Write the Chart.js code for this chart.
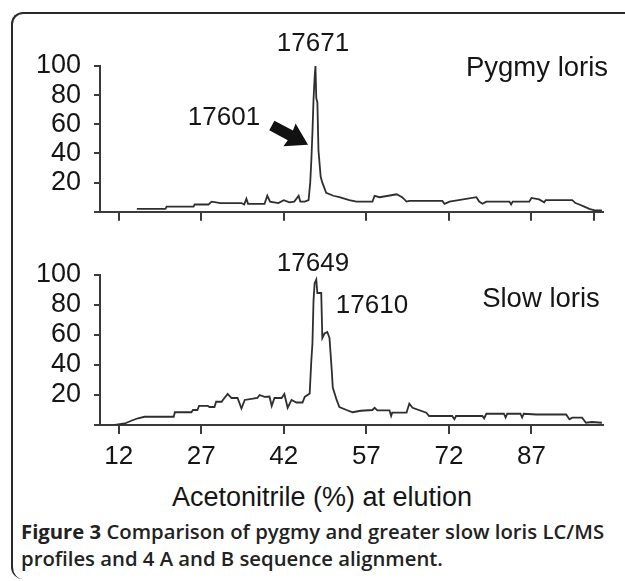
<!DOCTYPE html>
<html lang="en">
<head>
<meta charset="UTF-8">
<title>LC/MS profiles</title>
<script src="https://cdn.jsdelivr.net/npm/chart.js@4.4.0/dist/chart.umd.min.js"></script>
<style>
    body { margin: 0; background: #fff; }
    #page {
        position: relative; width: 625px; height: 581px; overflow: hidden;
        font-family: "Liberation Sans", Arial, sans-serif; color: #151515;
    }
    #frame {
        position: absolute; left: 11px; top: 12px; width: 640px; height: 565px;
        border-left: 2px solid #2a2a2a; border-top: 2px solid #2a2a2a;
        border-radius: 12px 0 0 12px;
    }
    canvas { position: absolute; left: 0; }
    #topChart { top: 0; }
    #bottomChart { top: 240px; }
    .lbl {
        position: absolute; white-space: nowrap; line-height: 1;
        font-size: 26px; transform: translate(-50%, -50%);
    }
    #caption {
        position: absolute; left: 21px; top: 518px;
        font-family: "Open Sans", "Noto Sans", sans-serif; font-size: 20.3px;
        font-weight: 600; line-height: 26.5px; color: #222;
    }
    #caption b { font-weight: 700; }
</style>
</head>
<body>
<div id="page">
    <div id="frame"></div>
    <canvas id="topChart" width="625" height="241"></canvas>
    <canvas id="bottomChart" width="625" height="235"></canvas>

    <div class="lbl" style="left:313px; top:42px">17671</div>
    <div class="lbl" style="left:224px; top:116px">17601</div>
    <div class="lbl" style="left:537px; top:67px; font-size:27.5px">Pygmy loris</div>
    <div class="lbl" style="left:313px; top:262px">17649</div>
    <div class="lbl" style="left:372px; top:304px">17610</div>
    <div class="lbl" style="left:541px; top:298px; font-size:27.5px">Slow loris</div>
    <div class="lbl" style="left:322px; top:497px; font-size:27px">Acetonitrile (%) at elution</div>

    <div id="caption"><b>Figure 3</b> Comparison of pygmy and greater slow loris LC/MS<br>profiles and 4 A and B sequence alignment.</div>
</div>

<script>
    // acetonitrile (%) axis
    var xMin = 8.6;
    var xMax = 100;
    var xTickValues = [12, 27, 42, 57, 72, 87];
    var yTickStep = 20;

    // Pygmy loris trace (relative intensity)
    var pygmyX = [15.3, 20.5, 20.7, 25.6, 25.8, 28.3, 28.9, 30.5, 34.3, 34.8, 35.2, 35.5, 38.5, 39.0, 39.5,
        41.0, 42.0, 43.0, 43.9, 44.7, 45.0, 45.8, 46.5, 46.8, 47.0, 47.2, 47.4, 47.6, 47.75, 47.9, 48.1,
        48.3, 48.7, 49.0, 49.7, 51.0, 52.1, 53.9, 55.2, 58.1, 58.5, 59.4, 61.0, 62.5, 63.5, 64.3, 64.8,
        70.8, 71.2, 72.1, 77.0, 77.5, 78.1, 78.8, 83.0, 83.3, 83.6, 86.6, 87.0, 88.4, 89.3, 89.6, 94.4,
        95.0, 95.7, 96.6, 97.5, 98.5, 99.8];
    var pygmyY = [2, 2, 3.5, 3.5, 5, 5, 7, 6, 6, 5, 9, 5.5, 5.5, 11, 7,
        6, 8, 6.5, 7, 11, 7, 7, 8, 20, 35, 54, 77, 92, 100, 78, 75,
        42, 24, 20, 13, 11, 10, 8, 7, 7, 11, 10, 11, 12, 10, 7, 7.5,
        7.5, 5.5, 7, 10, 7, 5.5, 7, 7, 5, 7, 7, 9.5, 8.5, 6.5, 8, 8,
        6, 5, 3.5, 2, 1, 1];

    // Slow loris trace
    var slowX = [11.3, 13.1, 14.4, 15.5, 16.7, 22.0, 22.2, 25.2, 25.5, 26.3, 26.6, 28.2, 28.5, 29.4, 29.7,
        30.7, 31.0, 31.8, 32.5, 33.6, 34.3, 34.9, 37.2, 37.6, 38.5, 39.4, 39.8, 40.3, 41.6, 42.1, 42.7,
        43.4, 44.3, 45.4, 45.8, 46.7, 47.0, 47.2, 47.4, 47.6, 47.9, 48.1, 48.8, 49.0, 49.4, 49.9, 50.3,
        50.7, 50.9, 51.6, 52.1, 53.4, 54.5, 56.0, 58.1, 58.5, 59.0, 61.2, 61.5, 61.7, 64.3, 64.8, 65.4,
        67.9, 68.4, 72.6, 73.0, 73.3, 78.1, 78.4, 78.8, 82.0, 82.3, 82.6, 85.0, 85.3, 85.6, 87.9, 93.3,
        93.9, 94.4, 96.2, 96.9, 98.0, 99.8];
    var slowY = [0, 1, 3, 4.5, 5.5, 5.5, 8.5, 8.5, 10, 10, 12.7, 12.7, 12, 12, 15.5,
        15.5, 17, 20.7, 18, 18, 11, 16.7, 18, 20, 18.7, 19, 12.7, 18, 18, 20.7, 11.5,
        16.7, 15, 15, 18.7, 21, 43, 54, 83, 94.5, 97, 88, 88, 58, 61, 62, 58,
        37, 25, 16.7, 12, 10, 8.5, 9.5, 10, 11.5, 9.8, 9.8, 6, 8.2, 8.2, 14.2, 11.5,
        8.2, 6, 6, 3.8, 6, 6, 4.4, 7.5, 7.5, 5, 7.5, 7.5, 5, 7.5, 7, 7,
        3.8, 4.9, 4.9, 1.5, 2, 1.5];

    var axisColor = '#3a3a3a';
    var lineColor = '#2e2e2e';
    var tickFont = { family: 'Liberation Sans', size: 27 };

    function toPoints(xs, ys) {
        var pts = [];
        for (var i = 0; i < xs.length; i++) {
            pts.push({ x: xs[i], y: ys[i] });
        }
        return pts;
    }

    // black arrow pointing at the 17601 shoulder
    var arrowPlugin = {
        id: 'arrow',
        afterDraw: function (chart, args, opts) {
            if (!opts.at) return;
            var ctx = chart.ctx;
            var tx = chart.scales.x.getPixelForValue(opts.at[0]);
            var ty = chart.scales.y.getPixelForValue(opts.at[1]);
            ctx.save();
            ctx.translate(tx, ty);
            ctx.rotate(opts.angle * Math.PI / 180);
            ctx.beginPath();
            ctx.moveTo(0, 0);
            ctx.lineTo(-21, -13);
            ctx.lineTo(-20, -5.5);
            ctx.lineTo(-41, -5.5);
            ctx.lineTo(-41, 5.5);
            ctx.lineTo(-20, 5.5);
            ctx.lineTo(-21, 13);
            ctx.closePath();
            ctx.fillStyle = '#111';
            ctx.fill();
            ctx.restore();
        }
    };

    function createGraphic(canvasId, xs, ys, opts) {
        var ctx = document.getElementById(canvasId).getContext('2d');
        return new Chart(ctx, {
            type: 'line',
            data: {
                datasets: [{
                    data: toPoints(xs, ys),
                    borderColor: lineColor,
                    borderWidth: 1.8,
                    pointRadius: 0,
                    fill: false,
                    tension: 0
                }]
            },
            options: {
                responsive: false,
                animation: false,
                events: [],
                layout: { padding: { top: opts.padTop, right: 22, left: 0, bottom: 0 } },
                plugins: {
                    legend: { display: false },
                    tooltip: { enabled: false },
                    arrow: opts.arrow || {}
                },
                scales: {
                    x: {
                        type: 'linear',
                        min: xMin,
                        max: xMax,
                        afterBuildTicks: function (scale) {
                            scale.ticks = opts.xTicks.map(function (v) { return { value: v }; });
                        },
                        afterFit: function (scale) { scale.height = opts.xHeight; },
                        grid: { drawOnChartArea: false, tickLength: 9, color: axisColor, lineWidth: 2 },
                        border: { color: axisColor, width: 2 },
                        ticks: {
                            font: { family: 'Liberation Sans', size: 26 },
                            color: '#151515',
                            padding: 7,
                            maxRotation: 0,
                            autoSkip: false,
                            callback: function (v) {
                                return opts.showXLabels && xTickValues.indexOf(v) >= 0 ? String(v) : '';
                            }
                        }
                    },
                    y: {
                        min: 0,
                        max: 100,
                        afterFit: function (scale) { scale.width = 100; },
                        grid: { drawOnChartArea: false, tickLength: 6, color: axisColor, lineWidth: 2 },
                        border: { color: axisColor, width: 2 },
                        ticks: {
                            stepSize: yTickStep,
                            autoSkip: false,
                            font: tickFont,
                            color: '#151515',
                            padding: 13,
                            callback: function (v) { return v === 0 ? '' : String(v); }
                        }
                    }
                }
            },
            plugins: [arrowPlugin]
        });
    }

    window.onload = function () {
        createGraphic('topChart', pygmyX, pygmyY, {
            padTop: 66,
            xHeight: 20,
            xTicks: xTickValues.concat([98.3]),
            showXLabels: false,
            arrow: { at: [46.4, 46], angle: 28 }
        });
        createGraphic('bottomChart', slowX, slowY, {
            padTop: 35,
            xHeight: 50,
            xTicks: xTickValues,
            showXLabels: true
        });
    };
</script>
</body>
</html>
